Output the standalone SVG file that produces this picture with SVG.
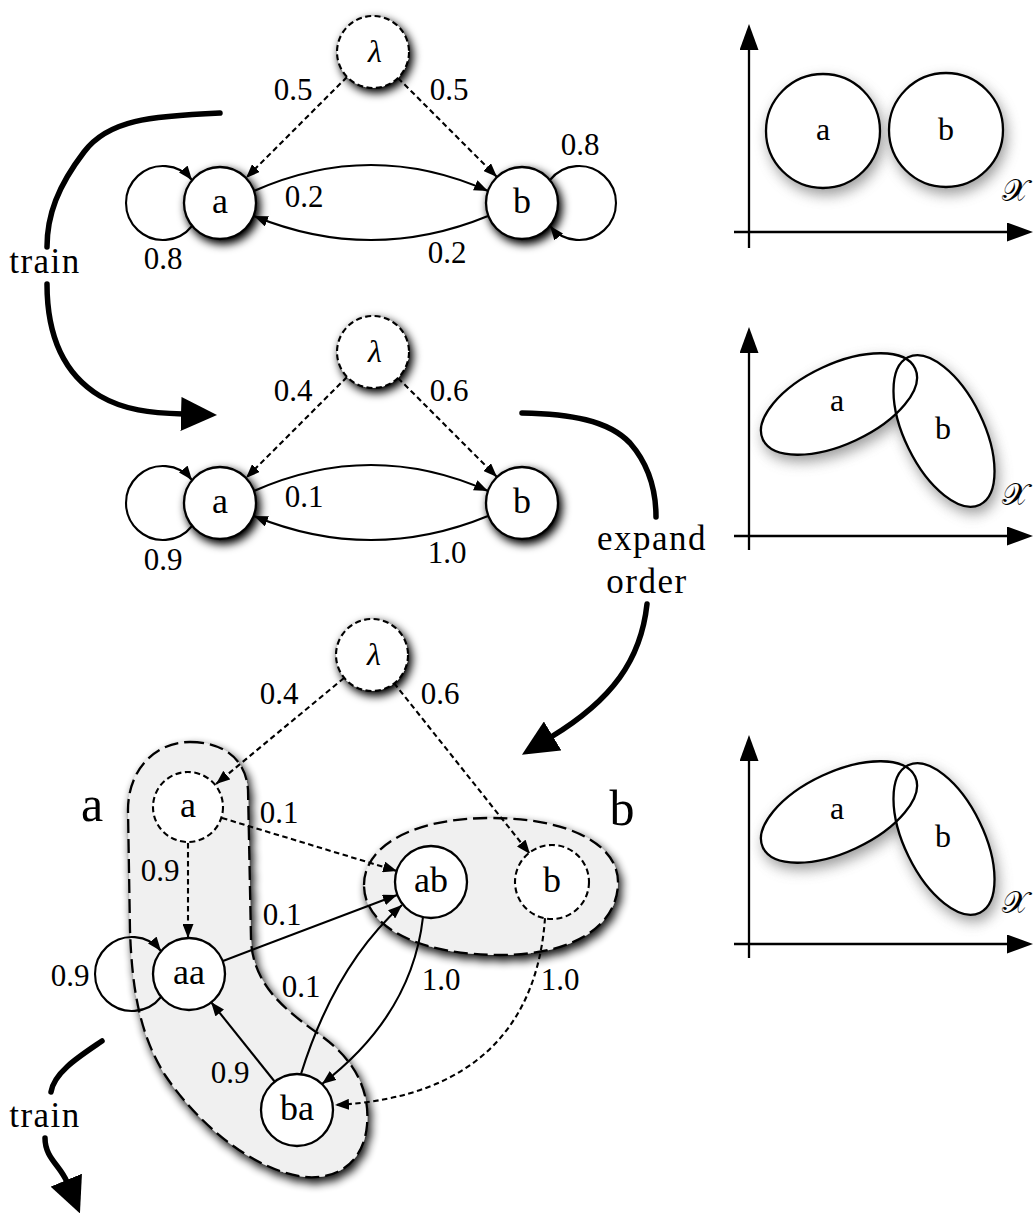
<svg xmlns="http://www.w3.org/2000/svg" width="1034" height="1213" viewBox="0 0 1034 1213">
<defs>
<style>
  .t { font-family: "Liberation Serif", "Times New Roman", serif; fill: #000; text-anchor: middle; }
  .el { font-size: 31px; }
  .nl { font-size: 36px; }
  .wl { font-size: 35px; letter-spacing: 1.5px; }
  .big { font-size: 50px; }
  .lam { font-size: 32px; font-style: italic; }
  .node { fill: #fff; stroke: #000; stroke-width: 2.3; }
  .dnode { fill: #fff; stroke: #000; stroke-width: 2.1; stroke-dasharray: 6 3.5; }
  .edge { fill: none; stroke: #000; stroke-width: 2.1; marker-end: url(#ah); }
  .dash { stroke-dasharray: 5.5 3.5; }
  .flow { fill: none; stroke: #000; stroke-width: 5.5; stroke-linecap: round; }
  .blob { fill: #f0f0f0; stroke: #000; stroke-width: 2.3; stroke-dasharray: 14 6; filter: url(#blobShadow); }
  .axis { fill: none; stroke: #000; stroke-width: 2.3; }
  .cl { fill: none; stroke: #000; stroke-width: 2.3; }
  .cf { fill: #fff; }
  .halo { fill: #707070; opacity: 0.7; filter: url(#halo); }
  .sx { font-family: "DejaVu Sans", "Noto Sans", serif; font-size: 31px; }
  .pl { font-size: 32px; }
</style>
<marker id="ah" viewBox="0 0 14 11" refX="14" refY="5.5" markerWidth="14" markerHeight="11" markerUnits="userSpaceOnUse" orient="auto">
  <path d="M0,0 L14,5.5 L0,11 Z" fill="#000"/>
</marker>
<marker id="bh" viewBox="0 0 36 34" refX="2" refY="17" markerWidth="36" markerHeight="34" markerUnits="userSpaceOnUse" orient="auto">
  <path d="M0,0 L36,17 L0,34 Z" fill="#000"/>
</marker>
<marker id="axh" viewBox="0 0 26 19" refX="1" refY="9.5" markerWidth="26" markerHeight="19" markerUnits="userSpaceOnUse" orient="auto">
  <path d="M0,0 L26,9.5 L0,19 Z" fill="#000"/>
</marker>
<filter id="nodeShadow" x="-60%" y="-60%" width="220%" height="220%">
  <feGaussianBlur in="SourceAlpha" stdDeviation="5"/>
  <feOffset dx="3" dy="4" result="b"/>
  <feComponentTransfer><feFuncA type="linear" slope="1.1"/></feComponentTransfer>
  <feMerge><feMergeNode/><feMergeNode in="SourceGraphic"/></feMerge>
</filter>
<filter id="blobShadow" x="-20%" y="-20%" width="140%" height="140%">
  <feGaussianBlur in="SourceAlpha" stdDeviation="5"/>
  <feOffset dx="3" dy="5" result="b"/>
  <feComponentTransfer><feFuncA type="linear" slope="0.95"/></feComponentTransfer>
  <feMerge><feMergeNode/><feMergeNode in="SourceGraphic"/></feMerge>
</filter>
<filter id="halo" x="-40%" y="-40%" width="180%" height="180%">
  <feGaussianBlur stdDeviation="7"/>
</filter>
</defs>

<!-- region blobs of the expanded model -->
<g id="region-a">
  <path class="blob" d="M190,742 C222,742 246,758 248,790 L251,940 C253,985 285,1010 320,1035 C355,1060 370,1090 367,1125 C364,1160 340,1180 305,1177 C250,1170 195,1120 165,1075 C140,1035 132,990 130,930 L128,810 C128,770 155,742 190,742 Z"/>
  <text class="t big" x="92" y="821">a</text>
</g>
<g id="region-b">
  <path class="blob" d="M364,885 C364,845 415,818 490,818 C570,818 618,845 618,882 C618,925 575,955 500,955 C425,955 364,930 364,885 Z"/>
  <text class="t big" x="622" y="825">b</text>
</g>

<!-- connectors -->
<g id="connectors">
  <!-- first model -->
  <path class="edge dash" d="M347,77 L246,178"/>
  <path class="edge dash" d="M398,78 L497,177"/>
  <path class="edge" d="M254,191 Q371,139 488,191"/>
  <path class="edge" d="M488,216 Q371,264 254,216"/>
  <path class="edge" d="M192,226 A37,37 0 1 1 192,180"/>
  <path class="edge" d="M550,180 A37,37 0 1 1 550,226"/>
  <text class="t el" x="293" y="100">0.5</text>
  <text class="t el" x="449" y="100">0.5</text>
  <text class="t el" x="580" y="155">0.8</text>
  <text class="t el" x="304" y="207">0.2</text>
  <text class="t el" x="447" y="263">0.2</text>
  <text class="t el" x="163" y="269">0.8</text>

  <!-- trained model -->
  <path class="edge dash" d="M347,377 L246,478"/>
  <path class="edge dash" d="M398,378 L497,477"/>
  <path class="edge" d="M254,491 Q371,439 488,491"/>
  <path class="edge" d="M488,516 Q371,564 254,516"/>
  <path class="edge" d="M192,526 A37,37 0 1 1 192,480"/>
  <text class="t el" x="293" y="401">0.4</text>
  <text class="t el" x="449" y="401">0.6</text>
  <text class="t el" x="304" y="507">0.1</text>
  <text class="t el" x="447" y="563">1.0</text>
  <text class="t el" x="163" y="570">0.9</text>

  <!-- expanded model -->
  <path class="edge dash" d="M344,678 L216,784"/>
  <path class="edge dash" d="M394,683 L530,854"/>
  <path class="edge dash" d="M222,818 L397,871"/>
  <path class="edge dash" d="M188,843 L188,938"/>
  <path class="edge" d="M223,961 L397,895"/>
  <path class="edge" d="M275,1082 L211,1002"/>
  <path class="edge" d="M301,1074 Q335,965 402,905"/>
  <path class="edge" d="M423,917 Q412,1015 322,1084"/>
  <path class="edge dash" d="M545,918 C538,1020 480,1098 335,1105"/>
  <path class="edge" d="M161,997 A37,37 0 1 1 161,951"/>
  <text class="t el" x="279" y="704">0.4</text>
  <text class="t el" x="440" y="704">0.6</text>
  <text class="t el" x="279" y="823">0.1</text>
  <text class="t el" x="160" y="881">0.9</text>
  <text class="t el" x="282" y="925">0.1</text>
  <text class="t el" x="70" y="986">0.9</text>
  <text class="t el" x="301" y="997">0.1</text>
  <text class="t el" x="230" y="1083">0.9</text>
  <text class="t el" x="441" y="990">1.0</text>
  <text class="t el" x="560" y="990">1.0</text>

  <!-- steps between models -->
  <path class="flow" d="M220,113 C150,116 108,120 84,152 C58,186 47,215 47,247"/>
  <path class="flow" d="M47,284 C47,330 60,372 100,396 C124,410 150,413 183,414" marker-end="url(#bh)"/>
  <text class="t wl" x="45" y="273">train</text>
  <path class="flow" d="M522,413 C570,414 608,420 630,443 C650,466 656,492 656,517"/>
  <path class="flow" d="M647,604 C641,660 612,700 551,737" marker-end="url(#bh)"/>
  <text class="t wl" x="652" y="550">expand</text>
  <text class="t wl" x="647" y="593">order</text>
  <path class="flow" d="M102,1041 C80,1056 54,1072 51,1092"/>
  <path class="flow" d="M45,1138 C45,1158 60,1165 67,1182" marker-end="url(#bh)"/>
  <text class="t wl" x="45" y="1127">train</text>
</g>

<!-- first model nodes -->
<g id="m1-lambda"><circle class="dnode" cx="373" cy="52" r="36" filter="url(#nodeShadow)"/><text class="t lam" x="375" y="62">λ</text></g>
<g id="m1-a"><circle class="node" cx="220" cy="203" r="36" filter="url(#nodeShadow)"/><text class="t nl" x="220" y="213">a</text></g>
<g id="m1-b"><circle class="node" cx="522" cy="203" r="36" filter="url(#nodeShadow)"/><text class="t nl" x="522" y="213">b</text></g>

<!-- trained model nodes -->
<g id="m2-lambda"><circle class="dnode" cx="373" cy="352" r="36" filter="url(#nodeShadow)"/><text class="t lam" x="375" y="362">λ</text></g>
<g id="m2-a"><circle class="node" cx="220" cy="503" r="36" filter="url(#nodeShadow)"/><text class="t nl" x="220" y="513">a</text></g>
<g id="m2-b"><circle class="node" cx="522" cy="503" r="36" filter="url(#nodeShadow)"/><text class="t nl" x="522" y="513">b</text></g>

<!-- expanded model nodes -->
<g id="m3-lambda"><circle class="dnode" cx="372" cy="655" r="36" filter="url(#nodeShadow)"/><text class="t lam" x="374" y="665">λ</text></g>
<g id="m3-a"><circle class="dnode" cx="188" cy="807" r="35"/><text class="t nl" x="188" y="817">a</text></g>
<g id="m3-aa"><circle class="node" cx="189" cy="974" r="36"/><text class="t nl" x="189" y="984">aa</text></g>
<g id="m3-ba"><circle class="node" cx="297" cy="1110" r="36"/><text class="t nl" x="297" y="1120">ba</text></g>
<g id="m3-ab"><circle class="node" cx="431" cy="882" r="36"/><text class="t nl" x="431" y="892">ab</text></g>
<g id="m3-b"><circle class="dnode" cx="552" cy="882" r="37"/><text class="t nl" x="552" y="892">b</text></g>

<!-- output distributions in feature space -->
<g id="space-1">
  <path class="axis" d="M749,248 L749,49" marker-end="url(#axh)"/>
  <path class="axis" d="M734,232 L1008,232" marker-end="url(#axh)"/>
  <circle class="halo" cx="826" cy="137" r="58"/>
  <circle class="halo" cx="949" cy="136" r="58"/>
  <circle class="cf" cx="823" cy="131" r="57"/>
  <circle class="cf" cx="946" cy="130" r="57"/>
  <circle class="cl" cx="823" cy="131" r="57"/>
  <circle class="cl" cx="946" cy="130" r="57"/>
  <text class="t pl" x="823" y="140">a</text>
  <text class="t pl" x="946" y="140">b</text>
  <text class="sx" x="1002" y="201">𝒳</text>
</g>
<g id="space-2">
  <path class="axis" d="M749,550 L749,352" marker-end="url(#axh)"/>
  <path class="axis" d="M734,536 L1008,536" marker-end="url(#axh)"/>
  <ellipse class="halo" cx="842" cy="410" rx="85" ry="41" transform="rotate(-25 842 410)"/>
  <ellipse class="halo" cx="947" cy="437" rx="83" ry="40.5" transform="rotate(64 947 437)"/>
  <ellipse class="cf" cx="839" cy="404" rx="84" ry="40" transform="rotate(-25 839 404)"/>
  <ellipse class="cf" cx="944" cy="431" rx="82" ry="39.5" transform="rotate(64 944 431)"/>
  <ellipse class="cl" cx="839" cy="404" rx="84" ry="40" transform="rotate(-25 839 404)"/>
  <ellipse class="cl" cx="944" cy="431" rx="82" ry="39.5" transform="rotate(64 944 431)"/>
  <text class="t pl" x="837" y="411">a</text>
  <text class="t pl" x="943" y="439">b</text>
  <text class="sx" x="1002" y="505">𝒳</text>
</g>
<g id="space-3" transform="translate(0,408)">
  <path class="axis" d="M749,550 L749,352" marker-end="url(#axh)"/>
  <path class="axis" d="M734,536 L1008,536" marker-end="url(#axh)"/>
  <ellipse class="halo" cx="842" cy="410" rx="85" ry="41" transform="rotate(-25 842 410)"/>
  <ellipse class="halo" cx="947" cy="437" rx="83" ry="40.5" transform="rotate(64 947 437)"/>
  <ellipse class="cf" cx="839" cy="404" rx="84" ry="40" transform="rotate(-25 839 404)"/>
  <ellipse class="cf" cx="944" cy="431" rx="82" ry="39.5" transform="rotate(64 944 431)"/>
  <ellipse class="cl" cx="839" cy="404" rx="84" ry="40" transform="rotate(-25 839 404)"/>
  <ellipse class="cl" cx="944" cy="431" rx="82" ry="39.5" transform="rotate(64 944 431)"/>
  <text class="t pl" x="837" y="411">a</text>
  <text class="t pl" x="943" y="439">b</text>
  <text class="sx" x="1002" y="505">𝒳</text>
</g>
</svg>
